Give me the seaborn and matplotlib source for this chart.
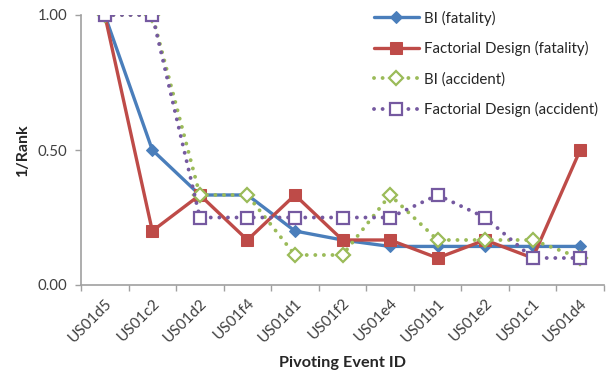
import matplotlib
matplotlib.use("Agg")
import matplotlib.pyplot as plt
import seaborn as sns
import numpy as np

events = ["US01d5", "US01c2", "US01d2", "US01f4", "US01d1", "US01f2",
          "US01e4", "US01b1", "US01e2", "US01c1", "US01d4"]

bi_fatality = [1.0, 0.5, 1/3, 1/3, 0.2, 1/6, 1/7, 1/7, 1/7, 1/7, 1/7]
fd_fatality = [1.0, 0.2, 1/3, 1/6, 1/3, 1/6, 1/6, 0.1, 1/6, 0.1, 0.5]
bi_accident = [1.0, 1.0, 1/3, 1/3, 1/9, 1/9, 1/3, 1/6, 1/6, 1/6, 0.1]
fd_accident = [1.0, 1.0, 0.25, 0.25, 0.25, 0.25, 0.25, 1/3, 0.25, 0.1, 0.1]

yticks = [0.0, 0.5, 1.0]

sns.set_theme(style="white")
plt.rcParams["font.family"] = ["Lato", "DejaVu Sans"]

fig = plt.figure(figsize=(6.08, 3.74), dpi=100)
ax = fig.add_axes([81/608, 1 - 285/374, (604 - 81)/608, (285 - 15)/374])

blue, red, green, purple = "#4A7EBB", "#BE4B48", "#9BBB59", "#7559A0"
dotted = (0, (0.01, 2.2))

sns.lineplot(x=events, y=bi_fatality, ax=ax, sort=False, color=blue,
             lw=2.4, marker="D", markersize=6, mfc=blue, mec=blue,
             label="BI (fatality)")
sns.lineplot(x=events, y=fd_fatality, ax=ax, sort=False, color=red,
             lw=2.4, marker="s", markersize=9, mfc=red, mec=red,
             label="Factorial Design (fatality)")
sns.lineplot(x=events, y=bi_accident, ax=ax, sort=False, color=green,
             lw=2.8, linestyle=dotted, dash_capstyle="round",
             marker="D", markersize=7, mfc="white", mec=green, mew=1.6,
             label="BI (accident)")
sns.lineplot(x=events, y=fd_accident, ax=ax, sort=False, color=purple,
             lw=2.8, linestyle=dotted, dash_capstyle="round",
             marker="s", markersize=8, mfc="white", mec=purple, mew=1.6,
             label="Factorial Design (accident)")

ax.set_xlim(-0.5, len(events) - 0.5)
ax.set_ylim(0, 1.0)
ax.set_yticks(yticks)
ax.set_yticklabels([f"{v:.2f}" for v in yticks])

# category labels at centres, tick marks at the boundaries
ax.set_xticks(np.arange(len(events)))
ax.set_xticklabels(events, rotation=45, ha="right", rotation_mode="anchor")
ax.set_xticks(np.arange(-0.5, len(events)), minor=True)
ax.tick_params(axis="x", which="major", length=0, pad=8, labelsize=11,
               labelcolor="#404040")
ax.tick_params(axis="x", which="minor", length=4, width=1, color="#A0A0A0",
               direction="out", bottom=True)
ax.tick_params(axis="y", length=4, width=1, color="#A0A0A0", direction="out",
               left=True, labelsize=10.8, labelcolor="#404040", pad=6)

for side in ("top", "right"):
    ax.spines[side].set_visible(False)
for side in ("left", "bottom"):
    ax.spines[side].set_color("#A0A0A0")
    ax.spines[side].set_linewidth(1.2)

ax.set_xlabel("Pivoting Event ID", fontsize=11.7, fontweight="bold",
              color="#262626", labelpad=8)
ax.set_ylabel("1/Rank", fontsize=11.5, fontweight="bold", color="#262626",
              labelpad=5)

leg = ax.legend(loc="upper left", bbox_to_anchor=(366/608, 1 - 3/374),
                bbox_transform=fig.transFigure, frameon=False, fontsize=10.8,
                handlelength=3.0, labelspacing=1.05, borderpad=0,
                handletextpad=0.4)
for t in leg.get_texts():
    t.set_color("#262626")

fig.savefig("out.png", dpi=100)
